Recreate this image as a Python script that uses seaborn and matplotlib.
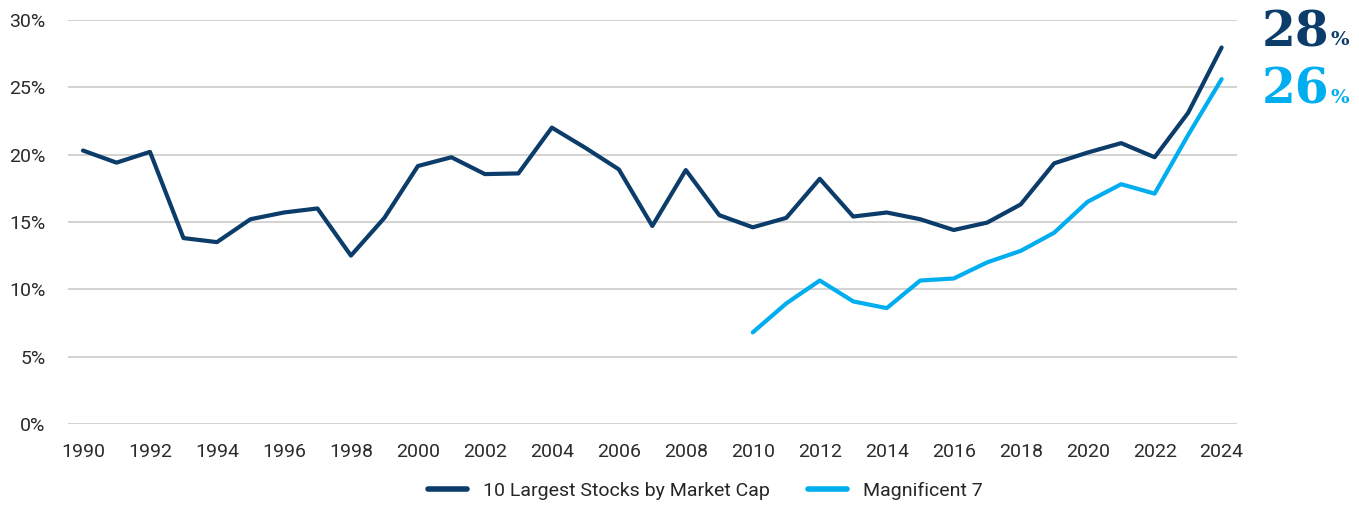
import numpy as np
import pandas as pd
import matplotlib
matplotlib.use("Agg")
import matplotlib.pyplot as plt
import seaborn as sns
from matplotlib.lines import Line2D

# ── Data ──────────────────────────────────────────────────
years = list(range(1990, 2025))
top10_share = [20.3, 19.4, 20.2, 13.8, 13.5, 15.2, 15.7, 16.0, 12.5, 15.3,
               19.15, 19.8, 18.55, 18.6, 22.0, 20.5, 18.9, 14.7, 18.85, 15.5,
               14.6, 15.3, 18.2, 15.4, 15.7, 15.2, 14.4, 14.95, 16.3, 19.35,
               20.15, 20.85, 19.8, 23.1, 27.95]
mag7_years = list(range(2010, 2025))
mag7_share = [6.8, 8.95, 10.65, 9.1, 8.6, 10.65, 10.8, 12.0, 12.85, 14.2,
              16.5, 17.8, 17.1, 21.45, 25.6]
series_names = ["10 Largest Stocks by Market Cap", "Magnificent 7"]
end_labels = ["28", "26"]
y_ticks = [0, 5, 10, 15, 20, 25, 30]
x_ticks = list(range(1990, 2025, 2))

DARK = "#0b3c6a"
LIGHT = "#00aeef"

df = pd.concat([
    pd.DataFrame({"Year": years, "Share": top10_share, "Series": series_names[0]}),
    pd.DataFrame({"Year": mag7_years, "Share": mag7_share, "Series": series_names[1]}),
])

sns.set_theme(style="white")
plt.rcParams["font.family"] = ["Roboto", "DejaVu Sans"]

fig = plt.figure(figsize=(13.59, 5.09), dpi=100)
ax = fig.add_axes([0.050, 0.167, 0.860, 0.794])

sns.lineplot(data=df, x="Year", y="Share", hue="Series",
             palette={series_names[0]: DARK, series_names[1]: LIGHT},
             linewidth=3, ax=ax, legend=False)

ax.set_xlim(1989.55, 2024.45)
ax.set_ylim(0, 30)
ax.set_yticks(y_ticks)
ax.set_yticklabels([f"{v}%" for v in y_ticks])
ax.set_xticks(x_ticks)
ax.set_xticklabels([str(v) for v in x_ticks])
ax.tick_params(axis="both", length=0, labelsize=14, labelcolor="#2b2b2b")
ax.tick_params(axis="y", pad=16)
ax.tick_params(axis="x", pad=14)
ax.grid(axis="y", color="#cccccc", linewidth=1.2)
ax.set_axisbelow(True)
for s in ax.spines.values():
    s.set_visible(False)
ax.set_xlabel("")
ax.set_ylabel("")

# Legend
handles = [Line2D([0], [0], color=DARK, lw=4), Line2D([0], [0], color=LIGHT, lw=4)]
fig.legend(handles, series_names, loc="center", bbox_to_anchor=(0.519, 0.035),
           ncol=2, frameon=False, fontsize=14, handlelength=2.0,
           columnspacing=2.0, handletextpad=0.8)

# End-point labels
for txt, col, yy in [(end_labels[0], DARK, 0.9096), (end_labels[1], LIGHT, 0.7957)]:
    t = fig.text(0.9286, yy, txt, color=col, fontsize=35, fontweight="bold",
                 family="DejaVu Serif", va="baseline", ha="left")
    ax.annotate("%", xy=(1, 0), xycoords=t, xytext=(1, 8), textcoords="offset points",
                color=col, fontsize=14, fontweight="bold", family="DejaVu Serif",
                va="baseline", ha="left", annotation_clip=False)

fig.savefig("out.png", dpi=100)
